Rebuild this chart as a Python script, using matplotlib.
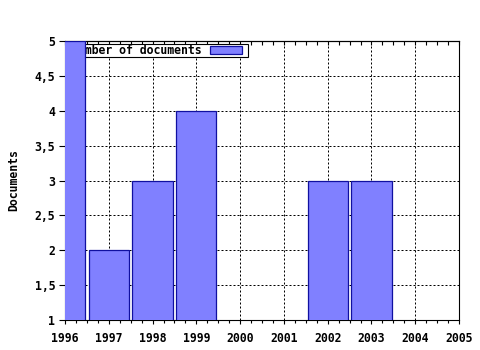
import numpy as np
import matplotlib
matplotlib.use("Agg")
import matplotlib.pyplot as plt
import matplotlib.patches as mpatches
from matplotlib.container import BarContainer
from matplotlib.legend_handler import HandlerPatch
from matplotlib.ticker import FuncFormatter, MultipleLocator

# Donnees
annees = [1996, 1997, 1998, 1999, 2000, 2001, 2002, 2003, 2004, 2005]
nb_documents = [5, 2, 3, 4, 0, 0, 3, 3, 0, 0]
etiquette_serie = "Number of documents"
titre_y = "Documents"

police = {"family": "DejaVu Sans Mono", "weight": "bold", "size": 8.3}

fig = plt.figure(figsize=(4.8, 3.5), dpi=100)
ax = fig.add_axes([65 / 480, 30 / 350, 394 / 480, 279 / 350])

# Barres (par-dessus la grille et la legende)
ax.bar(annees, nb_documents, width=0.92, color="#8080ff",
       edgecolor="#1010a0", linewidth=0.9, zorder=3,
       label=etiquette_serie)

ax.set_xlim(1996, 2005)
ax.set_ylim(1, 5)

ax.xaxis.set_major_locator(MultipleLocator(1))
ax.xaxis.set_minor_locator(MultipleLocator(0.25))
ax.yaxis.set_major_locator(MultipleLocator(0.5))
ax.yaxis.set_major_formatter(FuncFormatter(lambda v, p: ("%g" % v).replace(".", ",")))
ax.xaxis.set_major_formatter(FuncFormatter(lambda v, p: "%d" % v))

ax.grid(True, which="major", color="black", linewidth=0.72,
        linestyle=(0, (2, 2)))
ax.set_axisbelow(True)

for s in ax.spines.values():
    s.set_linewidth(0.8)
    s.set_color("black")

ax.tick_params(axis="x", which="major", direction="out", length=3, width=0.8, pad=5.5)
ax.tick_params(axis="x", which="minor", direction="out", length=2.5, width=0.8)
ax.tick_params(axis="y", which="major", direction="out", length=4, width=0.8, pad=3)
for lab in ax.get_xticklabels() + ax.get_yticklabels():
    lab.set_fontproperties(police)

# Graduations du haut tournees vers l'interieur
haut = ax.secondary_xaxis("top")
haut.xaxis.set_major_locator(MultipleLocator(1))
haut.xaxis.set_minor_locator(MultipleLocator(0.25))
haut.tick_params(which="both", direction="in", length=3, width=0.8, labeltop=False)
haut.spines["top"].set_linewidth(0.8)

fig.text(14 / 480, 1 - 180.5 / 350, titre_y, rotation=90, ha="center",
         va="center", fontdict=police)


def carre_legende(legend, orig_handle, xdescent, ydescent, width, height, fontsize):
    # petit rectangle avec une marge a droite, comme l'original
    marge = 6.5 * 72 / 100
    return mpatches.Rectangle((-xdescent, -ydescent), width - marge, height)


def copie_style(cible, source):
    cible.update_from(source.patches[0])


leg = ax.legend(loc="upper left", bbox_to_anchor=(71 / 480, 1 - 44 / 350),
                bbox_transform=fig.transFigure, borderaxespad=0,
                markerfirst=False, fancybox=False, shadow=False,
                framealpha=1, edgecolor="black", borderpad=0,
                handlelength=3.3, handleheight=0.6, handletextpad=0.75,
                prop=police,
                handler_map={BarContainer: HandlerPatch(patch_func=carre_legende,
                                                        update_func=copie_style)})
leg.get_frame().set_linewidth(0.8)
leg.set_zorder(2)

fig.savefig("out.png", dpi=100)
